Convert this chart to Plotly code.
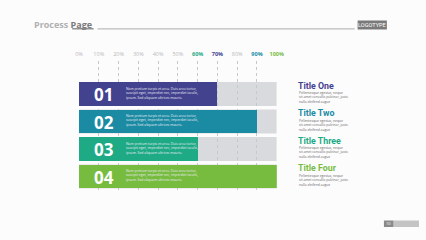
import plotly.graph_objects as go

# ---- data ----
numbers = ["01", "02", "03", "04"]
values = [70, 90, 60, 100]
full = [100, 100, 100, 100]
bar_colors = ["#42428f", "#1a8ba3", "#1daa85", "#77bc3f"]
titles = ["Title One", "Title Two", "Title Three", "Title Four"]
tick_vals = [0, 10, 20, 30, 40, 50, 60, 70, 80, 90, 100]
tick_labels = ["0%", "10%", "20%", "30%", "40%", "50%", "60%", "70%", "80%", "90%", "100%"]
tick_colors = ["#b8b8b8"] * 6 + ["#1daa85", "#42428f", "#b8b8b8", "#1a8ba3", "#77bc3f"]
bar_para = "Nam pretium turpis et arcu. Duis arcu tortor,<br>suscipit eget, imperdiet nec, imperdiet iaculis,<br>ipsum. Sed aliquam ultrices mauris."
side_para = "Pellentesque egestas, neque<br>sit amet convallis pulvinar, justo<br>nulla eleifend augue"

W, H = 426, 240
ypos = list(range(len(numbers)))
bw = 0.87

fig = go.Figure()
fig.add_trace(go.Bar(
    x=values, y=ypos, base=0, orientation="h", width=bw,
    marker=dict(color=bar_colors, line=dict(width=0)),
    hoverinfo="skip", showlegend=False,
))

shapes = []
# grey background tracks (drawn below gridlines)
for yi, f in zip(ypos, full):
    shapes.append(dict(type="rect", xref="x", yref="y", x0=0, x1=f,
                       y0=yi - bw / 2, y1=yi + bw / 2, layer="below",
                       fillcolor="#d9dadd", line=dict(width=0)))

# header line and logo
shapes += [
    dict(type="line", xref="paper", yref="paper", x0=96 / W, x1=360 / W,
         y0=1 - 28.8 / H, y1=1 - 28.8 / H, line=dict(color="#bdbdbd", width=1.2)),
    dict(type="line", xref="paper", yref="paper", x0=70 / W, x1=92 / W,
         y0=1 - 28.8 / H, y1=1 - 28.8 / H, line=dict(color="#777777", width=1.2)),
    dict(type="rect", xref="paper", yref="paper", x0=363 / W, x1=393 / W,
         y0=1 - 29.5 / H, y1=1 - 20.5 / H, fillcolor="#7a7a7a", line=dict(width=0)),
    dict(type="rect", xref="paper", yref="paper", x0=390 / W, x1=400 / W,
         y0=1 - 227 / H, y1=1 - 220.5 / H, fillcolor="#8a8a8a", line=dict(width=0)),
    dict(type="rect", xref="paper", yref="paper", x0=400 / W, x1=1,
         y0=1 - 227 / H, y1=1 - 220.5 / H, fillcolor="#c4c4c4", line=dict(width=0)),
]

ann = []
ann.append(dict(xref="paper", yref="paper", x=30 / W, y=1 - 24.3 / H, xanchor="left", yanchor="middle",
                text="<b><span style='color:#b0b0b0'>Process</span> <span style='color:#7a7a7a'>Page</span></b>",
                showarrow=False, borderpad=0, font=dict(family="Open Sans", size=9)))
ann.append(dict(xref="paper", yref="paper", x=378 / W, y=1 - 25 / H, xanchor="center", yanchor="middle",
                text="LOGOTYPE", showarrow=False, borderpad=0,
                font=dict(family="Roboto", size=5.6, color="white")))
ann.append(dict(xref="paper", yref="paper", x=395 / W, y=1 - 223.8 / H, xanchor="center", yanchor="middle",
                text="10", showarrow=False, borderpad=0, font=dict(family="Open Sans", size=4, color="white")))

for yi, num, title, col in zip(ypos, numbers, titles, bar_colors):
    ann.append(dict(xref="x", yref="y", x=12.6, y=yi + 0.02, xanchor="center", yanchor="middle",
                    text="<b>" + num + "</b>", showarrow=False, borderpad=0,
                    font=dict(family="Open Sans", size=17, color="white")))
    ann.append(dict(xref="x", yref="y", x=23.2, y=yi - 0.05, xanchor="left", yanchor="middle",
                    text=bar_para, showarrow=False, align="left", borderpad=0,
                    font=dict(family="Open Sans", size=3.4, color="#e8eaf2")))
    ann.append(dict(xref="paper", yref="y", x=300.5 / W, y=yi - 0.3, xanchor="left", yanchor="middle",
                    text="<b>" + title + "</b>", showarrow=False, borderpad=0,
                    font=dict(family="Roboto", size=8.8, color=col)))
    ann.append(dict(xref="paper", yref="y", x=301.5 / W, y=yi + 0.12, xanchor="left", yanchor="middle",
                    text=side_para, showarrow=False, align="left", borderpad=0,
                    font=dict(family="Open Sans", size=3.3, color="#666666")))

ticktext = ["<b><span style='color:%s'>%s</span></b>" % (c, t) if c != "#b8b8b8"
            else "<span style='color:%s'>%s</span>" % (c, t)
            for t, c in zip(tick_labels, tick_colors)]

pitch = 27.5
y_top_px, y_bot_px = 61, 94 + 3.5 * pitch
fig.update_layout(
    width=W, height=H, margin=dict(l=0, r=0, t=0, b=0),
    paper_bgcolor="#fcfcfd", plot_bgcolor="rgba(0,0,0,0)",
    bargap=0, shapes=shapes, annotations=ann,
    xaxis=dict(domain=[77 / W, 280 / W], range=[0, 100], side="top",
               tickvals=tick_vals, ticktext=ticktext, ticks="", ticklen=0,
               ticklabelstandoff=3,
               tickfont=dict(family="Open Sans", size=5.5, color="#b8b8b8"),
               showgrid=True, gridcolor="#c8c8c8", griddash="dot", gridwidth=0.8,
               zeroline=False, showline=False, fixedrange=True),
    yaxis=dict(domain=[1 - y_bot_px / H, 1 - y_top_px / H],
               range=[3.5, -0.5 - (94 - 0.5 * pitch - y_top_px) / pitch],
               showticklabels=False, showgrid=False, zeroline=False, showline=False, fixedrange=True),
)

fig.write_html("out.html")
